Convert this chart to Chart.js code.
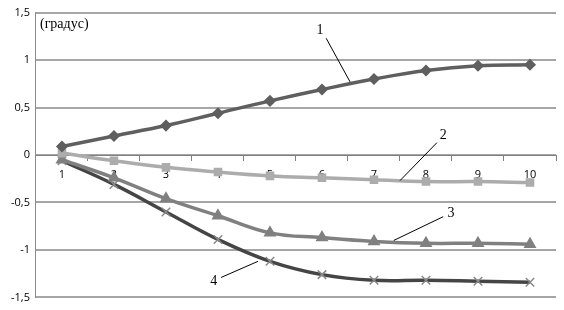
<!DOCTYPE html>
<html><head><meta charset="utf-8">
<script src="https://cdn.jsdelivr.net/npm/chart.js@4"></script>
<style>html,body{margin:0;padding:0;background:#fff}#w{width:564px;height:310px}</style>
</head><body><div id="w"><canvas id="c"></canvas></div>
<script>
const categories = ['1','2','3','4','5','6','7','8','9','10'];
const series1 = [0.09, 0.20, 0.31, 0.44, 0.57, 0.69, 0.80, 0.89, 0.94, 0.95];
const series2 = [0.02, -0.06, -0.13, -0.18, -0.22, -0.24, -0.26, -0.28, -0.28, -0.29];
const series3 = [-0.05, -0.24, -0.46, -0.64, -0.82, -0.87, -0.91, -0.93, -0.93, -0.94];
const series4 = [-0.06, -0.31, -0.60, -0.89, -1.12, -1.26, -1.32, -1.32, -1.33, -1.34];
const unitLabel = '(градус)';
// leader labels: [text, textIdx, textVal, fromIdx, fromVal, toIdx, toVal]
const leaders = [
  ['1', 4.96, 1.31, 5.08, 1.23, 5.54, 0.77],
  ['2', 7.33, 0.21, 7.21, 0.13, 6.5, -0.27],
  ['3', 7.48, -0.61, 7.33, -0.65, 6.38, -0.90],
  ['4', 2.92, -1.33, 3.06, -1.29, 3.77, -1.12]
];

const annot = {
  id: 'annot',
  afterDatasetsDraw(chart) {
    const {ctx, scales: {x, y}} = chart;
    ctx.save();
    ctx.font = '14px "Liberation Serif", serif';
    ctx.fillStyle = '#000';
    ctx.textAlign = 'left'; ctx.textBaseline = 'middle';
    ctx.fillText(unitLabel, x.left + 4, y.getPixelForValue(1.38));
    ctx.strokeStyle = '#000'; ctx.lineWidth = 1;
    ctx.textAlign = 'center';
    leaders.forEach(([t, ti, tv, fi, fv, li, lv]) => {
      ctx.fillText(t, x.getPixelForValue(ti), y.getPixelForValue(tv));
      ctx.beginPath();
      ctx.moveTo(x.getPixelForValue(fi), y.getPixelForValue(fv));
      ctx.lineTo(x.getPixelForValue(li), y.getPixelForValue(lv));
      ctx.stroke();
    });
    ctx.restore();
  }
};

function ds(data, color, style, ptColor, r) {
  return {data, borderColor: color, backgroundColor: ptColor || color, pointBackgroundColor: ptColor || color,
    pointBorderColor: ptColor || color, pointStyle: style, pointRadius: r, pointBorderWidth: 1.5,
    borderWidth: 3.5, tension: 0.4, fill: false};
}

new Chart(document.getElementById('c'), {
  type: 'line',
  data: {labels: categories, datasets: [
    ds(series1, '#5f5f5f', 'rectRot', '#5f5f5f', 5),
    ds(series2, '#acacac', 'rect', '#acacac', 5),
    ds(series3, '#808080', 'triangle', '#808080', 6),
    ds(series4, '#454545', 'crossRot', '#8a8a8a', 6)
  ]},
  plugins: [annot],
  options: {
    responsive: true, maintainAspectRatio: false, animation: false,
    layout: {padding: {left: 5, right: 8, top: 4, bottom: 7}},
    plugins: {legend: {display: false}, tooltip: {enabled: false}},
    scales: {
      x: {position: {y: 0}, offset: true,
        grid: {offset: true, drawOnChartArea: false, drawTicks: true, tickLength: 5, color: '#808080'},
        border: {color: '#808080', width: 1},
        ticks: {color: '#000', font: {family: '"Open Sans", sans-serif', size: 11}, padding: 8, maxRotation: 0}},
      y: {min: -1.5, max: 1.5,
        grid: {color: '#a6a6a6', lineWidth: 2, drawTicks: false},
        border: {color: '#8c8c8c', width: 1},
        ticks: {stepSize: 0.5, color: '#000', padding: 6,
          font: {family: '"Open Sans", sans-serif', size: 11},
          callback: v => String(v).replace('.', ',')}}
    }
  }
});
</script></body></html>
